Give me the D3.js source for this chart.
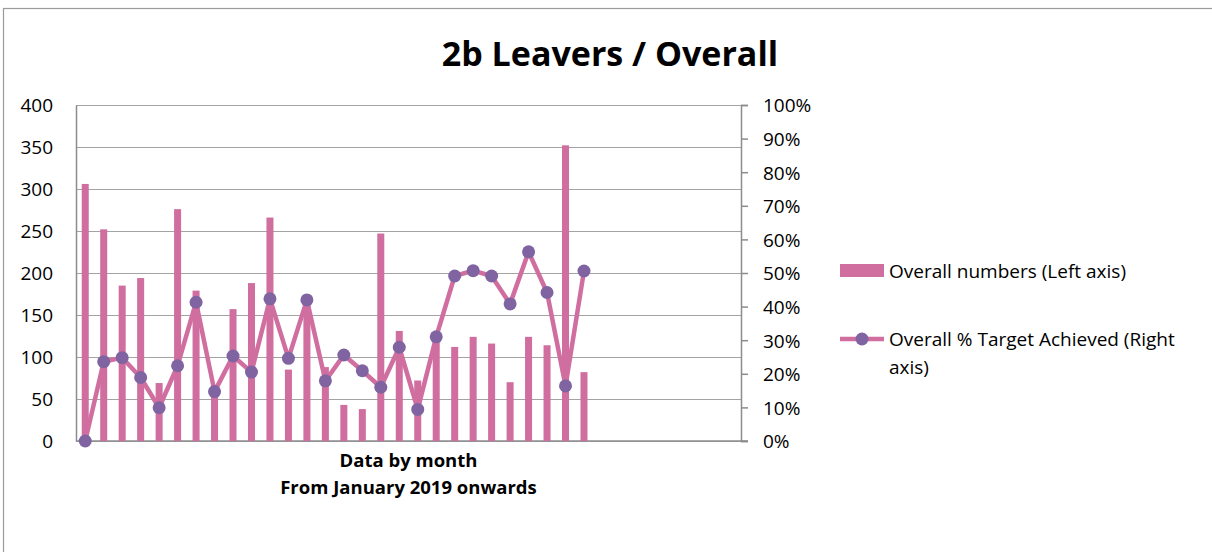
<!DOCTYPE html>
<html>
<head>
<meta charset="utf-8">
<script src="https://cdn.jsdelivr.net/npm/d3@7"></script>
<style>
  body { margin: 0; background: #fff; }
  svg text { font-family: "Open Sans", sans-serif; fill: #000; }
</style>
</head>
<body>
<script>
// months Jan 2019 .. Dec 2021 (axis has room for 36, only 28 have data)
const monthNames = ["Jan","Feb","Mar","Apr","May","Jun","Jul","Aug","Sep","Oct","Nov","Dec"];
const years = [2019, 2020, 2021];
const months = [];
years.forEach(yr => monthNames.forEach(m => months.push(m + " " + yr)));

// overall numbers (left axis)
const overallNumbers = [306, 252, 185, 194, 69, 276, 179, 58, 157, 188, 266, 85, 168, 88,
                        43, 38, 247, 131, 72, 124, 112, 124, 116, 70, 124, 114, 352, 82];
// overall % target achieved (right axis)
const targetPct = [0, 23.6, 24.8, 18.9, 9.9, 22.4, 41.3, 14.7, 25.3, 20.5, 42.3, 24.6, 42.0, 17.9,
                   25.6, 20.9, 16.0, 27.9, 9.4, 31.0, 49.1, 50.7, 49.1, 40.8, 56.3, 44.2, 16.4, 50.6];

const leftTicks = [0, 50, 100, 150, 200, 250, 300, 350, 400];
const rightTicks = [0, 10, 20, 30, 40, 50, 60, 70, 80, 90, 100];

const width = 1212;
const height = 552;
const plotLeft = 76, plotRight = 741, plotTop = 105, plotBottom = 441;

const barColor = "#d06ea0";
const dotColor = "#8064a2";
const labelSize = 19;

const svg = d3.select("body")
    .append("svg")
    .attr("width", width)
    .attr("height", height)

// chart frame
svg.append("rect")
    .attr("x", 3.5).attr("y", 8.5)
    .attr("width", 1240).attr("height", 600)
    .attr("fill", "none")
    .attr("stroke", "#9a9a9a")
    .attr("stroke-width", 1.2)

svg.append("text")
    .attr("x", 610).attr("y", 66)
    .attr("text-anchor", "middle")
    .attr("font-weight", "bold")
    .attr("font-size", 34)
    .text("2b Leavers / Overall")

const x = d3.scaleBand()
    .domain(months)
    .range([plotLeft, plotRight])
    .paddingInner(0.62)
    .paddingOuter(0.31)

const y = d3.scaleLinear().domain([0, 400]).range([plotBottom, plotTop]);
const y2 = d3.scaleLinear().domain([0, 100]).range([plotBottom, plotTop]);

// gridlines
svg.append("g")
    .attr("transform", `translate(${plotLeft},0)`)
    .call(d3.axisLeft(y).tickValues(leftTicks).tickSize(-(plotRight - plotLeft)).tickFormat(""))
    .call(g => g.select(".domain").remove())
    .call(g => g.selectAll("line").attr("stroke", "#a3a3a3").attr("stroke-width", 1.2))

// left axis
svg.append("g")
    .attr("transform", `translate(${plotLeft},0)`)
    .call(d3.axisLeft(y).tickValues(leftTicks).tickSize(0).tickPadding(23))
    .call(g => g.select(".domain").attr("stroke", "#8c8c8c").attr("stroke-width", 1.5))
    .call(g => g.selectAll("text").attr("font-size", labelSize).attr("font-family", "Open Sans").attr("fill", "#000").attr("dy", "0.36em"))

// right axis
svg.append("g")
    .attr("transform", `translate(${plotRight},0)`)
    .call(d3.axisRight(y2).tickValues(rightTicks).tickSize(7).tickPadding(15).tickFormat(d => d + "%"))
    .call(g => g.select(".domain").attr("stroke", "#8c8c8c").attr("stroke-width", 1.5))
    .call(g => g.selectAll("line").attr("stroke", "#8c8c8c").attr("stroke-width", 1.5))
    .call(g => g.selectAll("text").attr("font-size", labelSize).attr("font-family", "Open Sans").attr("fill", "#000").attr("dy", "0.36em"))

// bottom axis line
svg.append("line")
    .attr("x1", plotLeft).attr("x2", plotRight + 7)
    .attr("y1", plotBottom).attr("y2", plotBottom)
    .attr("stroke", "#8c8c8c")
    .attr("stroke-width", 1.5)

// bars
svg.selectAll("rect.bar")
    .data(overallNumbers)
    .enter()
    .append("rect")
    .attr("class", "bar")
    .attr("x", (d, i) => x(months[i]))
    .attr("width", x.bandwidth())
    .attr("y", d => y(d))
    .attr("height", d => y(0) - y(d))
    .attr("fill", barColor)

// line
const cx = i => x(months[i]) + x.bandwidth() / 2;
const line = d3.line()
    .x((d, i) => cx(i))
    .y(d => y2(d))

svg.append("path")
    .datum(targetPct)
    .attr("d", line)
    .attr("fill", "none")
    .attr("stroke", barColor)
    .attr("stroke-width", 4.5)
    .attr("stroke-linejoin", "round")

svg.selectAll("circle.pt")
    .data(targetPct)
    .enter()
    .append("circle")
    .attr("class", "pt")
    .attr("cx", (d, i) => cx(i))
    .attr("cy", d => y2(d))
    .attr("r", 6.5)
    .attr("fill", dotColor)

// x axis title
const xt = svg.append("text")
    .attr("text-anchor", "middle")
    .attr("font-weight", "bold")
    .attr("font-size", 18.5)
xt.append("tspan").attr("x", (plotLeft + plotRight) / 2).attr("y", 467).text("Data by month")
xt.append("tspan").attr("x", (plotLeft + plotRight) / 2).attr("y", 494).text("From January 2019 onwards")

// legend
const lg = svg.append("g")
lg.append("rect")
    .attr("x", 840).attr("y", 264)
    .attr("width", 44).attr("height", 13)
    .attr("fill", barColor)
lg.append("text")
    .attr("x", 889).attr("y", 278)
    .attr("font-size", labelSize)
    .text("Overall numbers (Left axis)")
lg.append("line")
    .attr("x1", 840).attr("x2", 884)
    .attr("y1", 339).attr("y2", 339)
    .attr("stroke", barColor)
    .attr("stroke-width", 4.5)
lg.append("circle")
    .attr("cx", 862).attr("cy", 339)
    .attr("r", 6.5)
    .attr("fill", dotColor)
const lt = lg.append("text")
    .attr("font-size", labelSize)
lt.append("tspan").attr("x", 889).attr("y", 346).text("Overall % Target Achieved (Right")
lt.append("tspan").attr("x", 889).attr("y", 374).text("axis)")
</script>
</body>
</html>
